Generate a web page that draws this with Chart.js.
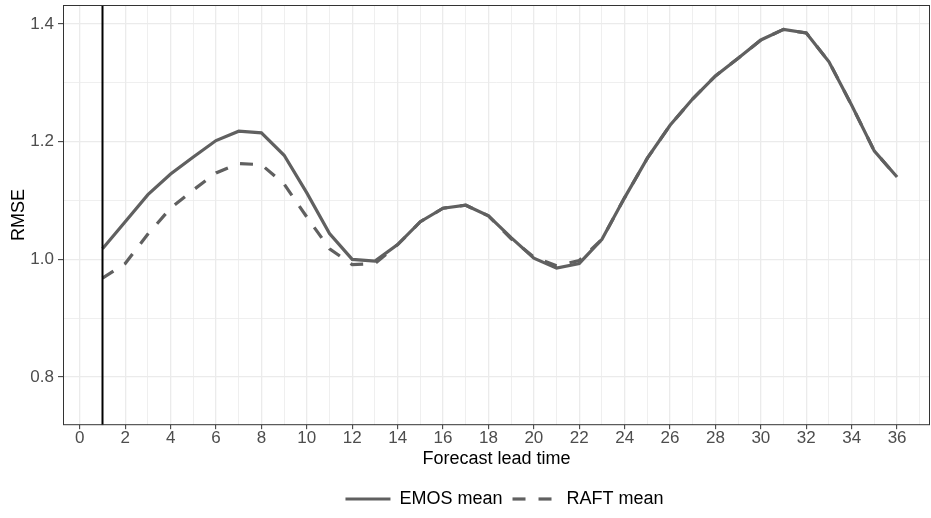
<!DOCTYPE html>
<html>
<head>
<meta charset="utf-8">
<script src="https://cdn.jsdelivr.net/npm/chart.js@4.4.1/dist/chart.umd.min.js"></script>
<style>
  html, body { margin: 0; padding: 0; background: #fff; }
  .wrap { width: 931px; height: 518px; }
</style>
</head>
<body>
<div class="wrap"><canvas class="chart-js"></canvas></div>
<script>
const leadTimes = [1, 2, 3, 4, 5, 6, 7, 8, 9, 10, 11, 12, 13, 14, 15, 16, 17, 18,
                   19, 20, 21, 22, 23, 24, 25, 26, 27, 28, 29, 30, 31, 32, 33, 34, 35, 36];
const emosMean = [1.018, 1.064, 1.110, 1.145, 1.174, 1.202, 1.218, 1.215, 1.177, 1.113,
                  1.044, 1.000, 0.997, 1.025, 1.064, 1.087, 1.092, 1.074, 1.037, 1.002,
                  0.985, 0.993, 1.034, 1.105, 1.172, 1.228, 1.273, 1.312, 1.342, 1.373,
                  1.391, 1.385, 1.336, 1.262, 1.184, 1.140];
const raftMean = [0.968, 0.993, 1.043, 1.087, 1.118, 1.147, 1.163, 1.161, 1.128, 1.072,
                  1.018, 0.991, 0.993, 1.025, 1.064, 1.087, 1.092, 1.074, 1.035, 1.004,
                  0.989, 0.998, 1.034, 1.105, 1.172, 1.228, 1.273, 1.312, 1.342, 1.373,
                  1.391, 1.385, 1.336, 1.262, 1.184, 1.140];
const markerLeadTime = 1;
const X_MIN = -0.74, X_MAX = 37.45;
const Y_MIN = 0.718, Y_MAX = 1.4325;

const FONT = '"Liberation Sans", Arial, Helvetica, sans-serif';
const LINE_COLOR = '#606060';
const GRID_COLOR = '#EBEBEB';

const ctx = document.querySelector('.chart-js').getContext('2d');

const toPoints = vals => vals.map((v, i) => ({ x: leadTimes[i], y: v }));

// panel border on all four sides, like theme_bw
const panelBorder = {
    id: 'panelBorder',
    afterDatasetsDraw(chart) {
        const { left, top, right, bottom } = chart.chartArea;
        const c = chart.ctx;
        c.save();
        c.strokeStyle = '#333333';
        c.lineWidth = 1;
        c.strokeRect(left + 0.5, top + 0.5, right - left - 1, bottom - top - 1);
        c.restore();
    }
};

// legend sits a little right of the panel centre in the original
const legendNudge = {
    id: 'legendNudge',
    afterLayout(chart) {
        chart.legend.left += 8;
        chart.legend.right += 8;
    }
};

function noEdgePadding(scale) {
    scale.paddingTop = 0;
    scale.paddingBottom = 0;
    scale.paddingLeft = 0;
    scale.paddingRight = 0;
}

new Chart(ctx, {
    type: 'line',
    data: {
        datasets: [{
            label: 'marker',
            data: [{ x: markerLeadTime, y: Y_MIN }, { x: markerLeadTime, y: Y_MAX }],
            borderColor: '#000000',
            borderWidth: 2,
            pointRadius: 0,
        },
        {
            label: 'EMOS mean',
            data: toPoints(emosMean),
            borderColor: LINE_COLOR,
            backgroundColor: LINE_COLOR,
            borderWidth: 3.2,
            pointRadius: 0,
            tension: 0,
        },
        {
            label: 'RAFT mean',
            data: toPoints(raftMean),
            borderColor: LINE_COLOR,
            backgroundColor: LINE_COLOR,
            borderWidth: 3.2,
            borderDash: [13, 13],
            pointRadius: 0,
            tension: 0,
        }]
    },
    options: {
        responsive: true,
        maintainAspectRatio: false,
        animation: false,
        layout: { padding: { left: 0, top: 5, right: 1, bottom: 0 } },
        plugins: {
            tooltip: { enabled: false },
            legend: {
                position: 'bottom',
                fullSize: false,
                labels: {
                    filter: item => item.datasetIndex !== 0,
                    generateLabels(chart) {
                        const items = Chart.defaults.plugins.legend.labels.generateLabels(chart);
                        items.forEach(it => {
                            const ds = chart.data.datasets[it.datasetIndex];
                            it.lineDash = ds.borderDash || [];
                            it.lineWidth = ds.borderWidth;
                            it.strokeStyle = ds.borderColor;
                        });
                        return items;
                    },
                    usePointStyle: true,
                    pointStyle: 'line',
                    pointStyleWidth: 45,
                    padding: 10,
                    color: '#000000',
                    font: { family: FONT, size: 18 }
                }
            }
        },
        scales: {
            x: {
                type: 'linear',
                min: X_MIN,
                max: X_MAX,
                border: { display: false },
                afterFit: noEdgePadding,
                grid: {
                    color: GRID_COLOR,
                    lineWidth: c => (c.tick && c.tick.value % 2 === 0) ? 1.3 : 0.8,
                    tickColor: c => (c.tick && c.tick.value % 2 === 0) ? '#333333' : 'rgba(0,0,0,0)',
                    tickLength: 4,
                    tickWidth: 1,
                },
                ticks: {
                    stepSize: 1,
                    includeBounds: false,
                    autoSkip: false,
                    maxRotation: 0,
                    padding: 0,
                    color: '#4D4D4D',
                    font: { family: FONT, size: 17, lineHeight: 1.1 },
                    callback(value) {
                        return Math.round(value) % 2 === 0 ? String(Math.round(value)) : '';
                    }
                },
                title: {
                    display: true,
                    text: 'Forecast lead time',
                    color: '#000000',
                    padding: { top: 0, bottom: 10.5 },
                    font: { family: FONT, size: 18 }
                }
            },
            y: {
                type: 'linear',
                min: Y_MIN,
                max: Y_MAX,
                border: { display: false },
                afterFit(scale) {
                    noEdgePadding(scale);
                    scale.width = 63;
                },
                grid: {
                    color: GRID_COLOR,
                    lineWidth: c => (c.tick && Math.round(c.tick.value * 10) % 2 === 0) ? 1.3 : 0.8,
                    tickColor: c => (c.tick && Math.round(c.tick.value * 10) % 2 === 0) ? '#333333' : 'rgba(0,0,0,0)',
                    tickLength: 5,
                    tickWidth: 1,
                },
                ticks: {
                    stepSize: 0.1,
                    includeBounds: false,
                    padding: 4,
                    color: '#4D4D4D',
                    font: { family: FONT, size: 17 },
                    callback(value) {
                        const t = Math.round(value * 10);
                        return t % 2 === 0 ? (t / 10).toFixed(1) : '';
                    }
                },
                title: {
                    display: true,
                    text: 'RMSE',
                    color: '#000000',
                    padding: { top: 8, bottom: 0 },
                    font: { family: FONT, size: 18 }
                }
            }
        }
    },
    plugins: [panelBorder, legendNudge]
});
</script>
</body>
</html>
